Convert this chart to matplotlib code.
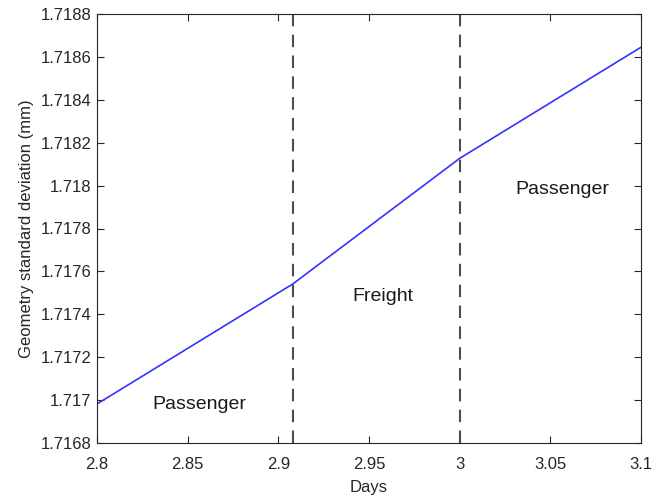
import matplotlib
matplotlib.use("Agg")
import matplotlib.pyplot as plt
from matplotlib.ticker import FuncFormatter, MultipleLocator

days = [2.8, 2.9079, 3.0, 3.1]
std_dev = [1.716982, 1.717541, 1.718127, 1.718645]
boundaries = [2.9079, 3.0]
labels = ["Passenger", "Freight", "Passenger"]
label_x = [2.8562, 2.9574, 3.0567]
label_y = [1.71698, 1.717482, 1.717984]

plt.rcParams['font.family'] = ['Liberation Sans', 'DejaVu Sans']
fig = plt.figure(figsize=(6.66, 5.0), dpi=100)
ax = fig.add_axes([97/666, 1-443/500, (641-97)/666, (443-14)/500])

ax.plot(days, std_dev, color=(0.2, 0.2, 1.0), lw=1.2)
for b in boundaries:
    ax.axvline(b, color=(0.3, 0.3, 0.3), lw=1.5, ls=(0, (6, 4)))
for t, x, y in zip(labels, label_x, label_y):
    ax.text(x, y, t, ha='center', va='center', fontsize=14, color=(0.1, 0.1, 0.1))

ax.set_xlim(2.8, 3.1)
ax.set_ylim(1.7168, 1.7188)
ax.xaxis.set_major_locator(MultipleLocator(0.05))
ax.yaxis.set_major_locator(MultipleLocator(0.0002))
fmt = FuncFormatter(lambda v, p: "%g" % round(v, 6))
ax.xaxis.set_major_formatter(fmt)
ax.yaxis.set_major_formatter(fmt)
ax.tick_params(direction='in', top=True, right=True, labelsize=12,
               colors=(0.15, 0.15, 0.15), length=5, width=0.8)
ax.tick_params(axis='x', pad=10)
ax.tick_params(axis='y', pad=4)
for s in ax.spines.values():
    s.set_color((0.15, 0.15, 0.15))
    s.set_linewidth(0.8)
ax.set_xlabel("Days", fontsize=12, color=(0.15, 0.15, 0.15), labelpad=6)
ax.set_ylabel("Geometry standard deviation (mm)", fontsize=12, color=(0.15, 0.15, 0.15), labelpad=5)
fig.savefig("out.png", dpi=100)
